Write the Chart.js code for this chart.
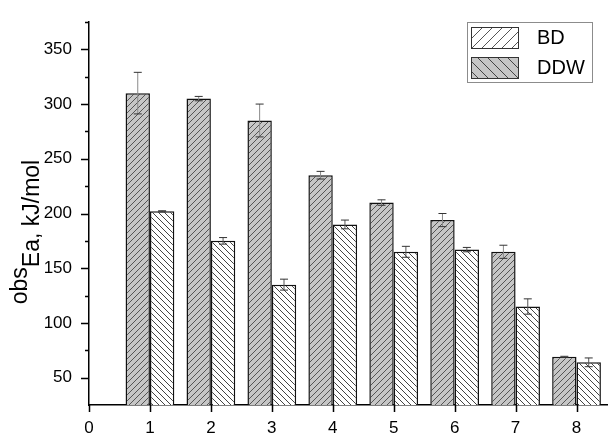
<!DOCTYPE html>
<html>
<head>
<meta charset="utf-8">
<script src="https://cdn.jsdelivr.net/npm/chart.js@4.4.1/dist/chart.umd.min.js"></script>
<style>
  body { margin: 0; background: #fff; }
</style>
</head>
<body>
<canvas id="grafico" width="609" height="439"></canvas>
<script>
const posicoes = [1, 2, 3, 4, 5, 6, 7, 8];
const ddw = [310, 305, 285, 235, 210, 194, 165, 69];
const ddwErro = [19, 2, 15, 3.5, 2.5, 6, 6, 0.5];
const bd = [202, 175, 135, 190, 165, 167, 115, 64];
const bdErro = [0.5, 3, 5, 4, 5, 2, 7, 4];
const ticksX = [0, 1, 2, 3, 4, 5, 6, 7, 8];
const ticksY = [50, 100, 150, 200, 250, 300, 350];
const ticksYMenores = [75, 125, 175, 225, 275, 325, 375];

const fonte = "Arial, 'Liberation Sans', sans-serif";

// hachura: direcao "/" ou "\"
function hachura(fundo, cor, passo, direcao) {
  const c = document.createElement("canvas");
  c.width = passo;
  c.height = passo;
  const g = c.getContext("2d");
  g.fillStyle = fundo;
  g.fillRect(0, 0, passo, passo);
  g.strokeStyle = cor;
  g.lineWidth = 1;
  g.beginPath();
  if (direcao === "/") {
    g.moveTo(-1, passo + 1); g.lineTo(passo + 1, -1);
    g.moveTo(-1, 1); g.lineTo(1, -1);
    g.moveTo(passo - 1, passo + 1); g.lineTo(passo + 1, passo - 1);
  } else {
    g.moveTo(-1, -1); g.lineTo(passo + 1, passo + 1);
    g.moveTo(passo - 1, -1); g.lineTo(passo + 1, 1);
    g.moveTo(-1, passo - 1); g.lineTo(1, passo + 1);
  }
  g.stroke();
  return g.createPattern(c, "repeat");
}

const ctx = document.getElementById("grafico").getContext("2d");
const padraoDDW = hachura("#c6c6c6", "#555", 6, "/");
const padraoBD = hachura("#ffffff", "#444", 6, "\\");
const legendaBD = hachura("#ffffff", "#555", 10, "/");
const legendaDDW = hachura("#c6c6c6", "#444", 10, "\\");

const extras = {
  id: "extras",
  afterDatasetsDraw(chart) {
    const c = chart.ctx;
    const y = chart.scales.y;
    const x = chart.scales.x;
    const erros = [ddwErro, bdErro];
    const valores = [ddw, bd];

    // barras de erro
    [0, 1].forEach(i => {
      const meta = chart.getDatasetMeta(i);
      meta.data.forEach((barra, j) => {
        const topo = y.getPixelForValue(valores[i][j] + erros[i][j]);
        const base = y.getPixelForValue(valores[i][j] - erros[i][j]);
        c.save();
        c.lineWidth = 1;
        c.strokeStyle = i === 0 ? "#8a8a8a" : "#555";
        c.beginPath();
        c.moveTo(barra.x, topo);
        c.lineTo(barra.x, base);
        c.stroke();
        c.strokeStyle = "#333";
        c.beginPath();
        c.moveTo(barra.x - 4, topo); c.lineTo(barra.x + 4, topo);
        c.moveTo(barra.x - 4, base); c.lineTo(barra.x + 4, base);
        c.stroke();
        c.restore();
      });
    });

    // marcas dos eixos
    c.save();
    c.strokeStyle = "#000";
    c.lineWidth = 1.5;
    c.beginPath();
    ticksY.forEach(v => {
      const py = Math.round(y.getPixelForValue(v)) + 0.5;
      c.moveTo(y.right, py); c.lineTo(y.right - 8, py);
    });
    ticksYMenores.forEach(v => {
      const py = Math.round(y.getPixelForValue(v)) + 0.5;
      c.moveTo(y.right, py); c.lineTo(y.right - 4, py);
    });
    ticksX.forEach(v => {
      const px = Math.round(x.getPixelForValue(v)) + 0.5;
      c.moveTo(px, x.top); c.lineTo(px, x.top + 7);
    });
    c.stroke();
    c.restore();
  },
  afterDraw(chart) {
    const c = chart.ctx;
    // titulo do eixo y
    c.save();
    c.fillStyle = "#000";
    c.font = "23px " + fonte;
    const t1 = "obs";
    const t2 = "Ea, kJ/mol";
    const w1 = c.measureText(t1).width;
    const w2 = c.measureText(t2).width;
    c.translate(27, 232);
    c.rotate(-Math.PI / 2);
    c.textBaseline = "alphabetic";
    const u0 = -(w1 + w2) / 2;
    c.fillText(t1, u0, 0);
    c.fillText(t2, u0 + w1, 12);
    c.restore();

    // legenda
    c.save();
    c.strokeStyle = "#8c8c8c";
    c.lineWidth = 1;
    c.fillStyle = "#fff";
    c.fillRect(467.5, 22.5, 125, 60);
    c.strokeRect(467.5, 22.5, 125, 60);
    const itens = [
      { rotulo: chart.data.datasets[1].label, padrao: legendaBD, y: 27 },
      { rotulo: chart.data.datasets[0].label, padrao: legendaDDW, y: 57 }
    ];
    itens.forEach(it => {
      c.fillStyle = it.padrao;
      c.fillRect(471, it.y, 47, 21);
      c.strokeStyle = "#333";
      c.strokeRect(471.5, it.y + 0.5, 47, 21);
      c.fillStyle = "#000";
      c.font = "20px " + fonte;
      c.textBaseline = "middle";
      c.fillText(it.rotulo, 537, it.y + 11);
    });
    c.restore();
  }
};

const grafico = new Chart(ctx, {
  type: "bar",
  data: {
    datasets: [
      {
        label: "DDW",
        data: posicoes.map((p, i) => ({ x: p, y: ddw[i] })),
        backgroundColor: padraoDDW,
        borderColor: "#111",
        borderWidth: 1.5
      },
      {
        label: "BD",
        data: posicoes.map((p, i) => ({ x: p, y: bd[i] })),
        backgroundColor: padraoBD,
        borderColor: "#111",
        borderWidth: 1.5
      }
    ]
  },
  options: {
    responsive: false,
    animation: false,
    categoryPercentage: 0.8,
    barPercentage: 1.0,
    layout: { padding: { top: 22, right: 2, left: 0, bottom: 0 } },
    plugins: {
      legend: { display: false },
      tooltip: { enabled: false }
    },
    scales: {
      x: {
        type: "linear",
        min: 0,
        max: 8.5,
        offset: false,
        afterBuildTicks: s => { s.ticks = ticksX.map(v => ({ value: v })); },
        afterFit: s => { s.height = 34; },
        grid: { display: false, drawTicks: true, tickLength: 6 },
        border: { display: true, color: "#000", width: 1.5 },
        ticks: {
          padding: 7,
          color: "#000",
          font: { family: fonte, size: 17 },
          maxRotation: 0,
          autoSkip: false
        }
      },
      y: {
        min: 25,
        max: 375,
        afterBuildTicks: s => { s.ticks = ticksY.map(v => ({ value: v })); },
        afterFit: s => { s.width = 89; },
        grid: { display: false, drawTicks: true, tickLength: 8 },
        border: { display: true, color: "#000", width: 1.5 },
        ticks: {
          padding: 9,
          color: "#000",
          font: { family: fonte, size: 17 }
        }
      }
    }
  },
  plugins: [extras]
});
</script>
</body>
</html>
